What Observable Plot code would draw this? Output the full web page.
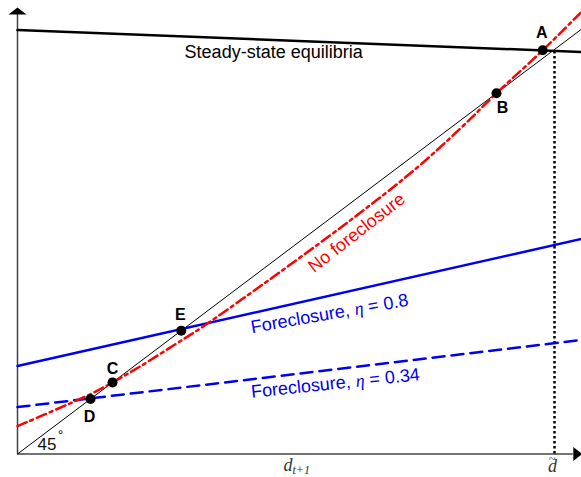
<!DOCTYPE html>
<html><head><meta charset="utf-8">
<script src="https://cdn.jsdelivr.net/npm/d3@7"></script>
<script src="https://cdn.jsdelivr.net/npm/@observablehq/plot@0.6"></script>
<style>body{margin:0;background:#fff}</style>
</head><body><div id="chart"></div>
<script>
// ---- data (model units, d_{t+1} on x, 45° line is y = x) ----
const lineX = [0, 1.05];
const diagonalY = [0, 1.05];
const steadyStateY = [1.048, 0.994];
const foreclosure08Y = [0.2176, 0.5315];
const foreclosure034Y = [0.116, 0.2818];
const noForeclosureX = [0, 0.136, 0.177, 0.229, 0.309, 0.341, 0.490, 0.626, 0.737, 0.825, 0.892, 0.978, 1.048];
const noForeclosureY = [0.069, 0.148, 0.177, 0.217, 0.284, 0.311, 0.451, 0.584, 0.700, 0.805, 0.892, 0.998, 1.090];
const pointLabels = ["A", "B", "C", "D", "E"];
const pointX = [0.978, 0.892, 0.177, 0.136, 0.305];
const pointY = [0.998, 0.892, 0.177, 0.136, 0.305];
const dTilde = 1;
const axisMaxX = 1.035;
const axisMaxY = 1.0865;

// ---- helpers ----
const series = (xs, ys) => xs.map((x, i) => ({x, y: ys[i]}));
const lerp = (ys, x) => ys[0] + (ys[1] - ys[0]) * (x - lineX[0]) / (lineX[1] - lineX[0]);
const upArrow = {draw(c) { c.moveTo(-9, 0); c.lineTo(9, 0); c.lineTo(0, -7); c.closePath(); }};
const rightArrow = {draw(c) { c.moveTo(0, -7); c.lineTo(0, 7); c.lineTo(9, 0); c.closePath(); }};
const sans = "Liberation Sans, Arial, Helvetica, sans-serif";
const serif = "Liberation Serif, Times New Roman, serif";
const labelOffset = {A: [-1, -17], B: [6, 15], C: [0, -14], D: [-1, 18], E: [-1, -16]};

const steadyLabelX = 0.477, fc08LabelX = 0.581, fc034LabelX = 0.592, noFcLabelIndex = 7, xLabelX = 0.52;

const svg = Plot.plot({
  width: 581, height: 477, margin: 0,
  x: {domain: [0, 1], range: [17, 554], axis: null},
  y: {domain: [0, 1], range: [453.5, 49], axis: null},
  style: {background: "white", fontFamily: sans},
  marks: [
    // axes
    Plot.ruleX([0], {y1: 0, y2: axisMaxY, stroke: "#444", strokeWidth: 1.5}),
    Plot.ruleY([0], {x1: 0, x2: axisMaxX, stroke: "#444", strokeWidth: 1.5}),
    Plot.dot([{x: 0, y: axisMaxY}], {x: "x", y: "y", symbol: upArrow, fill: "black", stroke: "none"}),
    Plot.dot([{x: axisMaxX, y: 0}], {x: "x", y: "y", symbol: rightArrow, fill: "black", stroke: "none"}),
    // dotted vertical at d~
    Plot.ruleX([dTilde], {y1: 0, y2: lerp(steadyStateY, dTilde), stroke: "black", strokeWidth: 2.5, strokeDasharray: "2.5,2.5"}),
    // lines
    Plot.line(series(lineX, diagonalY), {x: "x", y: "y", stroke: "black", strokeWidth: 1}),
    Plot.line(series(lineX, steadyStateY), {x: "x", y: "y", stroke: "black", strokeWidth: 2.5}),
    Plot.line(series(lineX, foreclosure08Y), {x: "x", y: "y", stroke: "#0000f0", strokeWidth: 2.5}),
    Plot.line(series(lineX, foreclosure034Y), {x: "x", y: "y", stroke: "#0000f0", strokeWidth: 2.5, strokeDasharray: "12,7"}),
    Plot.line(series(noForeclosureX, noForeclosureY), {x: "x", y: "y", stroke: "#ff0000", strokeWidth: 2.5, strokeDasharray: "10,4,3,4", curve: "catmull-rom"}),
    // points
    Plot.dot(series(pointX, pointY), {x: "x", y: "y", r: 5, fill: "black", stroke: "none"}),
    ...pointLabels.map((l, i) => Plot.text([i], {
      x: (j) => pointX[j], y: (j) => pointY[j], text: () => l,
      dx: labelOffset[l][0], dy: labelOffset[l][1],
      fontSize: 16, fontWeight: "bold", fill: "black", fontFamily: sans
    })),
    // line labels
    Plot.text([steadyLabelX], {x: (d) => d, y: (d) => lerp(steadyStateY, d), text: () => "Steady-state equilibria",
      dy: 12, fontSize: 18, fill: "black", fontFamily: sans}),
    Plot.text([noFcLabelIndex], {x: (i) => noForeclosureX[i], y: (i) => noForeclosureY[i], text: () => "No foreclosure",
      dx: 3, dy: 15, rotate: -38, fontSize: 18, fill: "#ff0000", fontFamily: sans}),
    Plot.text([fc08LabelX], {x: (d) => d, y: (d) => lerp(foreclosure08Y, d), text: () => "Foreclosure, η = 0.8",
      dy: 18, rotate: -10, fontSize: 18, fill: "#0000f0", fontFamily: sans}),
    Plot.text([fc034LabelX], {x: (d) => d, y: (d) => lerp(foreclosure034Y, d), text: () => "Foreclosure, η = 0.34",
      dy: 14, rotate: -6, fontSize: 18, fill: "#0000f0", fontFamily: sans}),
    // 45 degree label
    Plot.text([0], {x: (d) => d, y: (d) => d, text: () => "45", dx: 29.5, dy: -9.5, fontSize: 17, fill: "#111", fontFamily: sans}),
    Plot.text([0], {x: (d) => d, y: (d) => d, text: () => "∘", dx: 43, dy: -22, fontSize: 12, fill: "#111", fontFamily: "DejaVu Sans"}),
    // x-axis labels (rebuilt with tspans below)
    Plot.text([xLabelX], {x: (d) => d, y: () => 0, text: () => "d_{t+1}", dy: 11, fontSize: 18, fontStyle: "italic", fill: "#333", fontFamily: serif}),
    Plot.text([dTilde], {x: (d) => d, y: () => 0, text: () => "d~", dy: 12, dx: -2, fontSize: 18, fontStyle: "italic", fill: "#333", fontFamily: serif})
  ]
});

// LaTeX-like pieces: italic serif eta, subscript, tilde accent
const ns = "http://www.w3.org/2000/svg";
const tspan = (txt, attrs = {}) => {
  const t = document.createElementNS(ns, "tspan");
  t.textContent = txt;
  for (const [k, v] of Object.entries(attrs)) t.setAttribute(k, v);
  return t;
};
svg.querySelectorAll("text").forEach((t) => {
  const s = t.textContent;
  if (s.includes("η")) {
    const [a, b] = s.split("η");
    t.textContent = "";
    t.append(tspan(a), tspan("η", {"font-style": "italic", "font-family": serif}), tspan(b));
  } else if (s === "d_{t+1}") {
    t.textContent = "";
    t.append(tspan("d"), tspan("t+1", {"font-size": 12, dy: 3}));
  } else if (s === "d~") {
    t.textContent = "";
    t.append(tspan("d"), tspan("~", {"font-style": "normal", "font-size": 12, dx: -8, dy: -9}));
  }
});
document.getElementById("chart").appendChild(svg);
</script>
</body></html>
